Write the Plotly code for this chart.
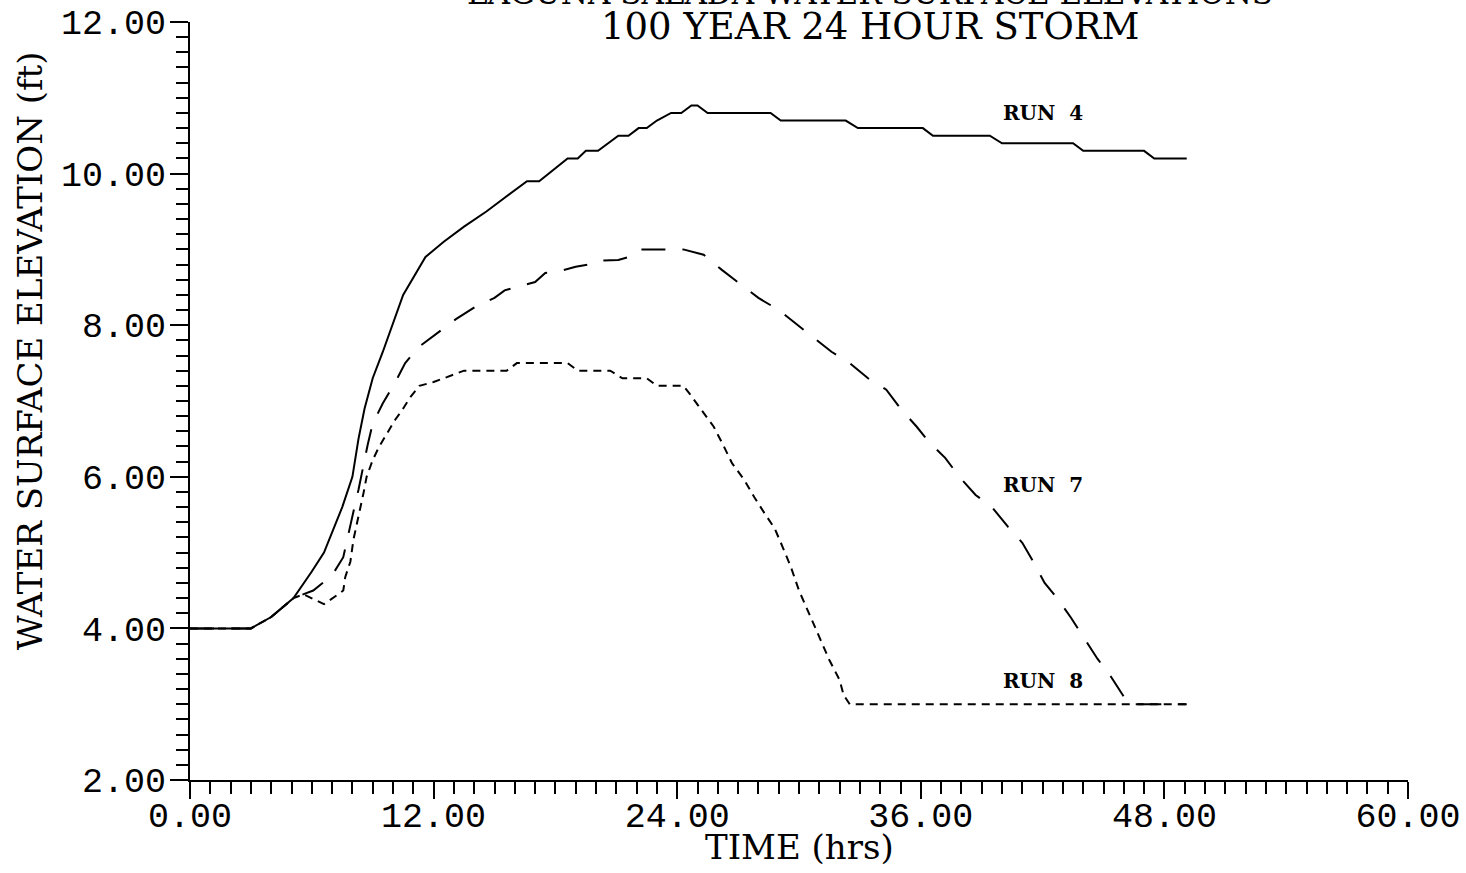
import plotly.graph_objects as go

# ---- data ----
run4_t = [0, 3.0, 4.0, 5.1, 6.0, 6.6, 7.5, 8.0, 8.3, 8.6, 9.0, 9.5, 10.5, 11.6, 12.5, 13.5,
          14.6, 15.6, 16.6, 17.2, 18.6, 19.1, 19.5, 20.1, 21.1, 21.6, 22.1, 22.5, 23.0, 23.7,
          24.2, 24.7, 25.0, 25.5, 28.6, 29.1, 32.3, 32.9, 36.1, 36.6, 39.4, 40.0, 43.5, 44.0,
          47.0, 47.5, 49.1]
run4_v = [4.0, 4.0, 4.15, 4.4, 4.75, 5.0, 5.6, 6.0, 6.5, 6.9, 7.3, 7.65, 8.4, 8.9, 9.1, 9.3,
          9.5, 9.7, 9.9, 9.9, 10.2, 10.2, 10.3, 10.3, 10.5, 10.5, 10.6, 10.6, 10.7, 10.8,
          10.8, 10.9, 10.9, 10.8, 10.8, 10.7, 10.7, 10.6, 10.6, 10.5, 10.5, 10.4, 10.4, 10.3,
          10.3, 10.2, 10.2]

run7_t = [0, 3.0, 4.0, 5.1, 6.07, 7.0, 7.55, 7.8, 8.05, 8.3, 8.5, 8.75, 9.0, 9.5, 10.1, 10.6,
          11.25, 12.2, 13.1, 14.1, 15.0, 15.5, 16.0, 17.0, 17.5, 18.0, 19.0, 19.6, 20.0, 21.1,
          21.6, 22.1, 24.3, 25.3, 26.2, 27.1, 28.0, 29.0, 29.8, 30.7, 31.6, 32.5, 33.4, 34.3,
          35.0, 35.8, 36.4, 37.2, 37.9, 38.7, 39.5, 40.3, 41.0, 41.5, 42.1, 42.8, 43.4, 44.0,
          44.7, 45.3, 46.0, 46.4, 49.1]
run7_v = [4.0, 4.0, 4.15, 4.4, 4.5, 4.7, 4.94, 5.26, 5.54, 5.83, 6.1, 6.42, 6.7, 6.97, 7.24, 7.5,
          7.71, 7.9, 8.08, 8.25, 8.36, 8.46, 8.5, 8.57, 8.69, 8.7, 8.77, 8.8, 8.85, 8.86,
          8.9, 9.0, 9.0, 8.93, 8.73, 8.55, 8.36, 8.2, 8.03, 7.83, 7.65, 7.5, 7.3, 7.15,
          6.9, 6.66, 6.46, 6.25, 6.0, 5.76, 5.6, 5.34, 5.13, 4.9, 4.6, 4.37, 4.14, 3.89,
          3.6, 3.39, 3.1, 3.0, 3.0]

run8_t = [0, 3.0, 4.0, 5.1, 5.6, 6.0, 6.6, 7.25, 7.55, 7.65, 7.9, 8.05, 8.3, 8.55, 8.7, 9.0,
          9.3, 9.7, 10.1, 10.45, 10.85, 11.3, 12.0, 12.5, 13.5, 15.6, 16.1, 18.6, 19.1, 20.7,
          21.3, 22.5, 23.0, 24.3, 24.6, 25.2, 25.8, 26.3, 26.7, 27.3, 27.8, 28.3, 28.8, 29.2,
          29.6, 30.0, 30.5, 31.0, 31.5, 32.0, 32.2, 32.5, 49.1]
run8_v = [4.0, 4.0, 4.15, 4.4, 4.45, 4.4, 4.32, 4.44, 4.5, 4.68, 4.88, 5.17, 5.47, 5.79, 6.0, 6.22,
          6.39, 6.58, 6.75, 6.88, 7.05, 7.2, 7.25, 7.3, 7.4, 7.4, 7.5, 7.5, 7.4, 7.4,
          7.3, 7.3, 7.2, 7.2, 7.1, 6.88, 6.66, 6.4, 6.18, 5.96, 5.73, 5.52, 5.32, 5.07,
          4.81, 4.5, 4.2, 3.89, 3.58, 3.32, 3.12, 3.0, 3.0]

run_labels = ["RUN  4", "RUN  7", "RUN  8"]
label_t = [42.0, 42.0, 42.0]
label_v = [10.8, 5.89, 3.31]

title_lines = ["LAGUNA SALADA WATER SURFACE ELEVATIONS", "100 YEAR 24 HOUR STORM"]
x_title = "TIME (hrs)"
y_title = "WATER SURFACE ELEVATION (ft)"

# ---- figure ----
fig = go.Figure()
fig.add_trace(go.Scatter(x=run4_t, y=run4_v, mode="lines", name="RUN 4",
                         line=dict(color="black", width=2)))
fig.add_trace(go.Scatter(x=run7_t, y=run7_v, mode="lines", name="RUN 7",
                         line=dict(color="black", width=2, dash="24px,17px")))
fig.add_trace(go.Scatter(x=run8_t, y=run8_v, mode="lines", name="RUN 8",
                         line=dict(color="black", width=2, dash="8px,6px")))

serif = "DejaVu Serif"
tickfont = dict(family="Liberation Mono", size=35, color="black")

fig.update_layout(
    width=1466, height=873,
    paper_bgcolor="white", plot_bgcolor="white",
    margin=dict(l=190, r=58, t=22, b=93),
    showlegend=False,
    xaxis=dict(range=[0, 60], dtick=12, tick0=0, tickformat=".2f", automargin=False,
               showline=True, linecolor="black", linewidth=2, showgrid=False, zeroline=False,
               ticks="outside", ticklen=17, tickwidth=2, tickcolor="black",
               tickfont=tickfont, ticklabelstandoff=-14,
               minor=dict(dtick=1, ticks="outside", ticklen=12, tickwidth=2,
                          tickcolor="black", showgrid=False)),
    yaxis=dict(range=[2, 12], dtick=2, tick0=2, tickformat=".2f", automargin=False,
               showline=True, linecolor="black", linewidth=2, showgrid=False, zeroline=False,
               ticks="outside", ticklen=18, tickwidth=2, tickcolor="black",
               tickfont=tickfont, ticklabelstandoff=-3,
               minor=dict(dtick=0.2, ticks="outside", ticklen=12, tickwidth=2,
                          tickcolor="black", showgrid=False)),
)

annotations = [
    dict(text=title_lines[0], xref="paper", yref="paper", x=0.5583, y=1.038,
         xanchor="center", yanchor="middle", showarrow=False,
         font=dict(family=serif, size=31, color="black")),
    dict(text=title_lines[1], xref="paper", yref="paper", x=0.5583, y=0.9935,
         xanchor="center", yanchor="middle", showarrow=False,
         font=dict(family=serif, size=37, color="black")),
    dict(text=x_title, xref="paper", yref="paper", x=0.5, y=-0.088,
         xanchor="center", yanchor="middle", showarrow=False,
         font=dict(family=serif, size=34, color="black")),
    dict(text=y_title, xref="paper", yref="paper", x=-0.1314, y=0.567,
         xanchor="center", yanchor="middle", showarrow=False, textangle=-90,
         font=dict(family=serif, size=34, color="black")),
]
for lab, t, v in zip(run_labels, label_t, label_v):
    annotations.append(dict(text="<b>" + lab + "</b>", x=t, y=v, xref="x", yref="y",
                            xanchor="center", yanchor="middle", showarrow=False,
                            font=dict(family=serif, size=20, color="black")))
fig.update_layout(annotations=annotations)

fig.write_html("out.html", config={"displayModeBar": False},
               post_script="document.body.style.margin='0';document.body.style.overflow='hidden';")
